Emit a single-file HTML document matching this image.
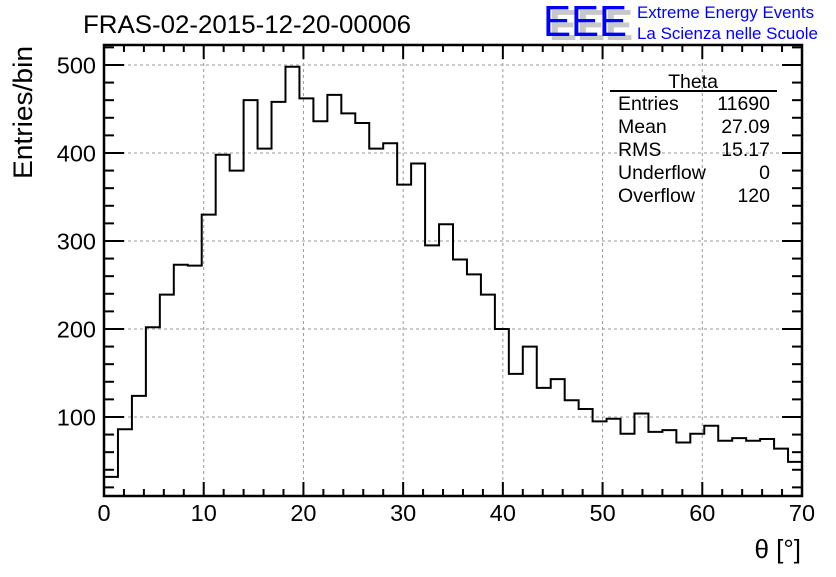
<!DOCTYPE html>
<html><head><meta charset="utf-8"><style>
body{margin:0;background:#fff;}
svg text{font-family:"Liberation Sans",Arial,sans-serif;}
</style></head><body>
<svg id="chart" width="836" height="572" viewBox="0 0 836 572" xmlns="http://www.w3.org/2000/svg">
<rect width="836" height="572" fill="#fff"/>
<g id="grid"></g>
<path id="hist" fill="none" stroke="#000" stroke-width="2"/>
<g id="axes"></g>
<text x="83" y="33" font-size="25" textLength="328" lengthAdjust="spacingAndGlyphs">FRAS-02-2015-12-20-00006</text>
<text transform="translate(32,179) rotate(-90)" font-size="27" textLength="133" lengthAdjust="spacingAndGlyphs">Entries/bin</text>
<text x="801" y="558" font-size="26" text-anchor="end">θ [°]</text>
<g>
<text x="549" y="40" font-size="44" fill="#c8c8c8" font-weight="bold" textLength="84" lengthAdjust="spacingAndGlyphs">EEE</text>
<text x="543" y="36" font-size="44" fill="#0000ff" textLength="84" lengthAdjust="spacingAndGlyphs">EEE</text>
<text x="637" y="18" font-size="16.5" fill="#0000ff" textLength="177" lengthAdjust="spacingAndGlyphs">Extreme Energy Events</text>
<text x="637" y="39" font-size="16.5" fill="#0000ff" textLength="181" lengthAdjust="spacingAndGlyphs">La Scienza nelle Scuole</text>
</g>
<g font-size="19.5">
<text x="693" y="88" text-anchor="middle">Theta</text>
<line x1="610" y1="91" x2="777" y2="91" stroke="#000" stroke-width="2"/>
<text x="618" y="110">Entries</text><text x="770" y="110" text-anchor="end">11690</text>
<text x="618" y="133">Mean</text><text x="770" y="133" text-anchor="end">27.09</text>
<text x="618" y="156">RMS</text><text x="770" y="156" text-anchor="end">15.17</text>
<text x="618" y="179">Underflow</text><text x="770" y="179" text-anchor="end">0</text>
<text x="618" y="202">Overflow</text><text x="770" y="202" text-anchor="end">120</text>
</g>
</svg>
<script>
const counts = [32,86,124,202,239,273,272,330,398,380,460,405,458,498,462,436,466,445,434,405,411,364,388,295,319,279,262,239,200,149,180,133,143,119,109,95,98,81,104,83,85,71,81,90,73,76,73,75,64,49];
const xTicks = [0,10,20,30,40,50,60,70];
const yTicks = [100,200,300,400,500];
const xMin = 0, xMax = 70, yMin = 10.2, yMax = 522.7;
const L = 104, R = 802, T = 45, B = 496;
const sx = v => L + (v - xMin) / (xMax - xMin) * (R - L);
const sy = v => B - (v - yMin) / (yMax - yMin) * (B - T);
const NS = "http://www.w3.org/2000/svg";
function mk(tag, attrs, parent) { const e = document.createElementNS(NS, tag); for (const k in attrs) e.setAttribute(k, attrs[k]); parent.appendChild(e); return e; }
const grid = document.getElementById('grid'), axes = document.getElementById('axes');
xTicks.forEach(t => { if (t > xMin && t < xMax) { const l = mk('line', {x1: sx(t), x2: sx(t), y1: T, y2: B, stroke: '#999', 'stroke-dasharray': '3,3'}, grid);

 } });
yTicks.forEach(t => { const l = mk('line', {x1: L, x2: R, y1: sy(t), y2: sy(t), stroke: '#999', 'stroke-dasharray': '3,3'}, grid);

 });
const bw = (xMax - xMin) / counts.length;
let d = 'M' + sx(0) + ',' + B;
counts.forEach((c, i) => { d += ' L' + sx(i * bw) + ',' + sy(c) + ' L' + sx((i + 1) * bw) + ',' + sy(c); });
d += ' L' + sx(xMax) + ',' + B;
document.getElementById('hist').setAttribute('d', d);
const fr = mk('rect', {x: L, y: T, width: R - L, height: B - T, fill: 'none', stroke: '#000', 'stroke-width': 2.5}, axes);


for (let v = 0; v <= 70; v += 2) { const maj = v % 10 === 0; const len = maj ? 14 : 7; const x = sx(v);
mk('line', {x1: x, x2: x, y1: B, y2: B - len, stroke: '#000', 'stroke-width': 2}, axes);
mk('line', {x1: x, x2: x, y1: T, y2: T + len, stroke: '#000', 'stroke-width': 2}, axes); }
for (let v = 20; v <= 520; v += 20) { const maj = v % 100 === 0; const len = maj ? 20 : 10; const y = sy(v);
mk('line', {x1: L, x2: L + len, y1: y, y2: y, stroke: '#000', 'stroke-width': 2}, axes);
mk('line', {x1: R, x2: R - len, y1: y, y2: y, stroke: '#000', 'stroke-width': 2}, axes); }
xTicks.forEach(t => { const tx = mk('text', {x: sx(t), y: 521, 'font-size': 23.5, 'text-anchor': 'middle'}, axes); tx.textContent = t;

 });
yTicks.forEach(t => { const tx = mk('text', {x: 96, y: sy(t) + 8.5, 'font-size': 23.5, 'text-anchor': 'end'}, axes); tx.textContent = t;

 });
</script>
</body></html>
